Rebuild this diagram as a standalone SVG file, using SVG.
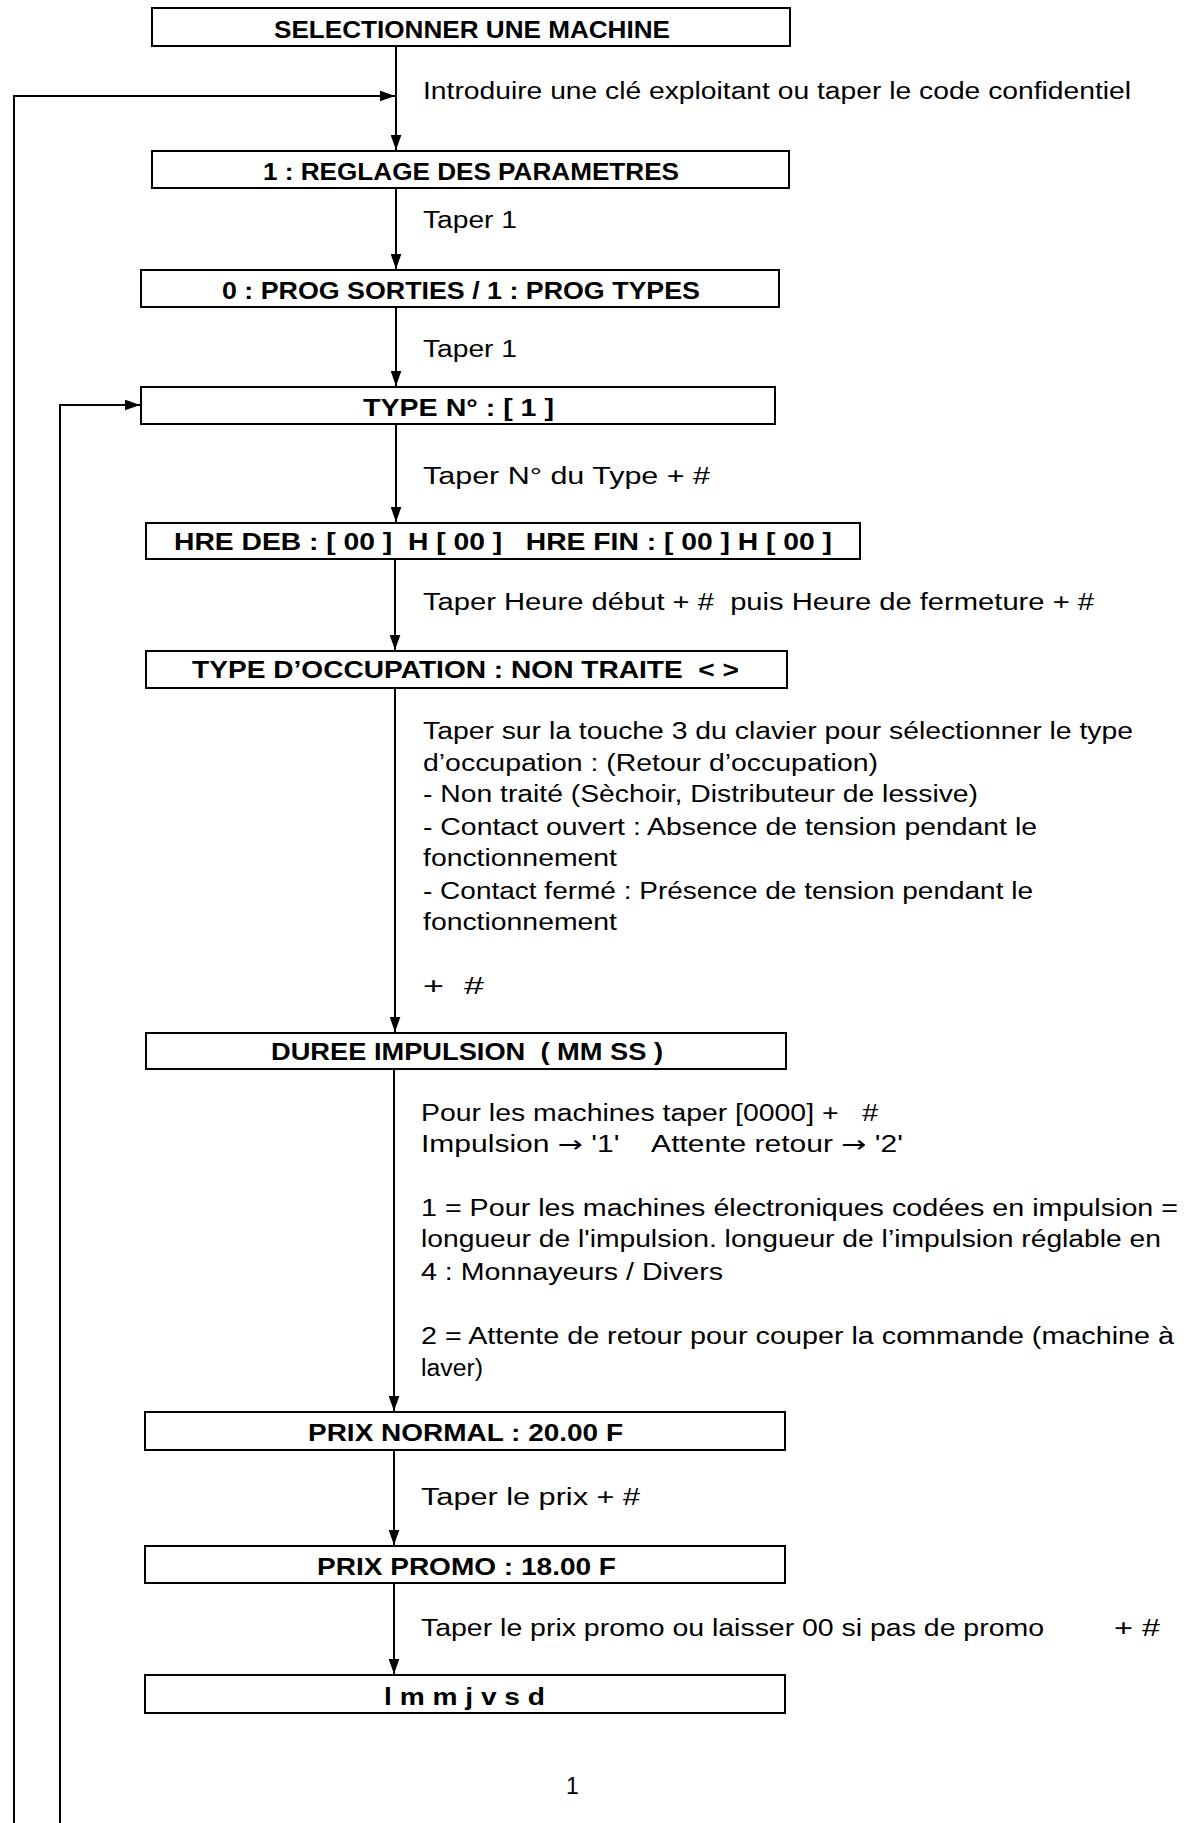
<svg xmlns="http://www.w3.org/2000/svg" width="1188" height="1823" viewBox="0 0 1188 1823">
<style>
.box{fill:#fff;stroke:#000;stroke-width:2}
.bt{font-family:"Liberation Sans",Arial,sans-serif;font-weight:bold;font-size:24px;fill:#000}
.t{font-family:"Liberation Sans",Arial,sans-serif;font-size:23px;fill:#000}
.ar{font-family:"DejaVu Sans",sans-serif}
.c{fill:none;stroke:#000;stroke-width:2}
</style>
<defs>
<marker id="ah" viewBox="0 0 14 10" refX="14" refY="5" markerWidth="15" markerHeight="11" markerUnits="userSpaceOnUse" orient="auto">
<path d="M0,0 L14,5 L0,10 z" fill="#000"/>
</marker>
</defs>
<rect width="1188" height="1823" fill="#fff"/>
<g id="connectors">
<line class="c" x1="396" y1="47" x2="396" y2="150" marker-end="url(#ah)"/>
<polyline class="c" points="14,1823 14,96 395,96" marker-end="url(#ah)"/>
<line class="c" x1="396" y1="189" x2="396" y2="269" marker-end="url(#ah)"/>
<line class="c" x1="396" y1="308" x2="396" y2="386" marker-end="url(#ah)"/>
<polyline class="c" points="60,1823 60,405 140,405" marker-end="url(#ah)"/>
<line class="c" x1="396" y1="425" x2="396" y2="522" marker-end="url(#ah)"/>
<line class="c" x1="395" y1="560" x2="395" y2="650" marker-end="url(#ah)"/>
<line class="c" x1="395" y1="689" x2="395" y2="1032" marker-end="url(#ah)"/>
<line class="c" x1="394" y1="1070" x2="394" y2="1411" marker-end="url(#ah)"/>
<line class="c" x1="394" y1="1451" x2="394" y2="1545" marker-end="url(#ah)"/>
<line class="c" x1="394" y1="1584" x2="394" y2="1674" marker-end="url(#ah)"/>
</g>
<g id="n1"><rect class="box" x="152" y="8" width="638" height="38"/><text class="bt" x="274" y="38" textLength="396" lengthAdjust="spacingAndGlyphs">SELECTIONNER UNE MACHINE</text></g>
<g id="l1"><text class="t" x="423" y="99" textLength="708" lengthAdjust="spacingAndGlyphs">Introduire une clé exploitant ou taper le code confidentiel</text></g>
<g id="n2"><rect class="box" x="152" y="151" width="637" height="37"/><text class="bt" x="263" y="180" textLength="416" lengthAdjust="spacingAndGlyphs">1 : REGLAGE DES PARAMETRES</text></g>
<g id="l2"><text class="t" x="423" y="228" textLength="94" lengthAdjust="spacingAndGlyphs">Taper 1</text></g>
<g id="n3"><rect class="box" x="141" y="270" width="638" height="37"/><text class="bt" x="222" y="299" textLength="478" lengthAdjust="spacingAndGlyphs">0 : PROG SORTIES / 1 : PROG TYPES</text></g>
<g id="l3"><text class="t" x="423" y="357" textLength="94" lengthAdjust="spacingAndGlyphs">Taper 1</text></g>
<g id="n4"><rect class="box" x="141" y="387" width="634" height="37"/><text class="bt" x="363" y="416" textLength="191" lengthAdjust="spacingAndGlyphs">TYPE N° : [ 1 ]</text></g>
<g id="l4"><text class="t" x="423" y="484" textLength="287" lengthAdjust="spacingAndGlyphs">Taper N° du Type + #</text></g>
<g id="n5"><rect class="box" x="146" y="523" width="714" height="36"/><text class="bt" x="174" y="550" textLength="658" lengthAdjust="spacingAndGlyphs" xml:space="preserve">HRE DEB : [ 00 ]  H [ 00 ]   HRE FIN : [ 00 ] H [ 00 ]</text></g>
<g id="l5"><text class="t" x="423" y="610" textLength="671" lengthAdjust="spacingAndGlyphs" xml:space="preserve">Taper Heure début + #  puis Heure de fermeture + #</text></g>
<g id="n6"><rect class="box" x="146" y="651" width="641" height="37"/><text class="bt" x="192" y="678" textLength="547" lengthAdjust="spacingAndGlyphs" xml:space="preserve">TYPE D’OCCUPATION : NON TRAITE  &lt; &gt;</text></g>
<g id="l6">
<text class="t" x="423" y="739" textLength="710" lengthAdjust="spacingAndGlyphs">Taper sur la touche 3 du clavier pour sélectionner le type</text>
<text class="t" x="423" y="771" textLength="455" lengthAdjust="spacingAndGlyphs">d’occupation : (Retour d’occupation)</text>
<text class="t" x="423" y="802" textLength="555" lengthAdjust="spacingAndGlyphs">- Non traité (Sèchoir, Distributeur de lessive)</text>
<text class="t" x="423" y="835" textLength="614" lengthAdjust="spacingAndGlyphs">- Contact ouvert : Absence de tension pendant le</text>
<text class="t" x="423" y="866" textLength="194" lengthAdjust="spacingAndGlyphs">fonctionnement</text>
<text class="t" x="423" y="899" textLength="610" lengthAdjust="spacingAndGlyphs">- Contact fermé : Présence de tension pendant le</text>
<text class="t" x="423" y="930" textLength="194" lengthAdjust="spacingAndGlyphs">fonctionnement</text>
<text class="t" x="423" y="994" textLength="61" lengthAdjust="spacingAndGlyphs" xml:space="preserve">+  #</text>
</g>
<g id="n7"><rect class="box" x="146" y="1033" width="640" height="36"/><text class="bt" x="271" y="1060" textLength="392" lengthAdjust="spacingAndGlyphs" xml:space="preserve">DUREE IMPULSION  ( MM SS )</text></g>
<g id="l7">
<text class="t" x="421" y="1121" textLength="457" lengthAdjust="spacingAndGlyphs" xml:space="preserve">Pour les machines taper [0000] +   #</text>
<text class="t" x="421" y="1152" textLength="482" lengthAdjust="spacingAndGlyphs" xml:space="preserve">Impulsion <tspan class="ar">→</tspan> '1'    Attente retour <tspan class="ar">→</tspan> '2'</text>
<text class="t" x="421" y="1216" textLength="757" lengthAdjust="spacingAndGlyphs">1 = Pour les machines électroniques codées en impulsion =</text>
<text class="t" x="421" y="1247" textLength="740" lengthAdjust="spacingAndGlyphs">longueur de l'impulsion. longueur de l’impulsion réglable en</text>
<text class="t" x="421" y="1280" textLength="302" lengthAdjust="spacingAndGlyphs">4 : Monnayeurs / Divers</text>
<text class="t" x="421" y="1344" textLength="753" lengthAdjust="spacingAndGlyphs">2 = Attente de retour pour couper la commande (machine à</text>
<text class="t" x="421" y="1376" textLength="62" lengthAdjust="spacingAndGlyphs">laver)</text>
</g>
<g id="n8"><rect class="box" x="145" y="1412" width="640" height="38"/><text class="bt" x="308" y="1441" textLength="315" lengthAdjust="spacingAndGlyphs">PRIX NORMAL : 20.00 F</text></g>
<g id="l8"><text class="t" x="421" y="1505" textLength="219" lengthAdjust="spacingAndGlyphs">Taper le prix + #</text></g>
<g id="n9"><rect class="box" x="145" y="1546" width="640" height="37"/><text class="bt" x="317" y="1575" textLength="299" lengthAdjust="spacingAndGlyphs">PRIX PROMO : 18.00 F</text></g>
<g id="l9"><text class="t" x="421" y="1636" textLength="623" lengthAdjust="spacingAndGlyphs">Taper le prix promo ou laisser 00 si pas de promo</text><text class="t" x="1114" y="1636" textLength="46" lengthAdjust="spacingAndGlyphs">+ #</text></g>
<g id="n10"><rect class="box" x="145" y="1675" width="640" height="38"/><text class="bt" x="384" y="1705" textLength="161" lengthAdjust="spacingAndGlyphs">l m m j v s d</text></g>
<g id="page"><text class="t" x="566" y="1794" font-size="24">1</text></g>
</svg>
